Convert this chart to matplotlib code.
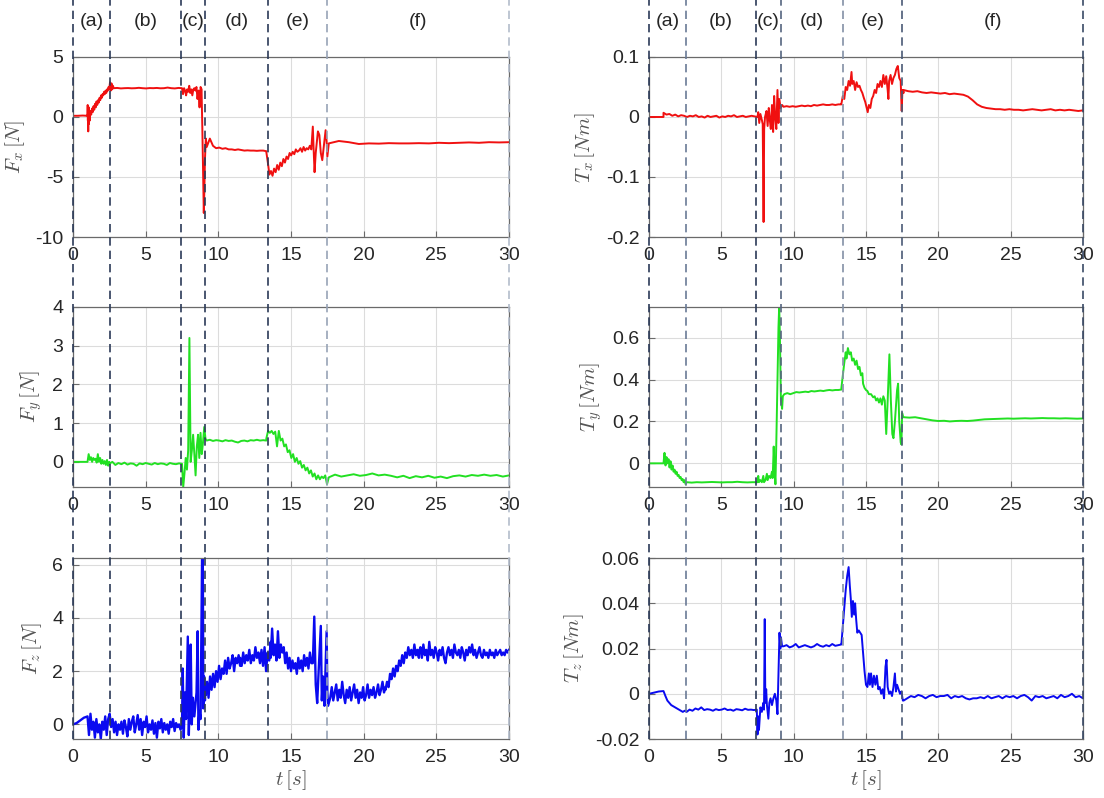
import numpy as np
import matplotlib
matplotlib.use("Agg")
import matplotlib.pyplot as plt
from matplotlib.lines import Line2D
from matplotlib.transforms import blended_transform_factory

plt.rcParams['font.family'] = ['Liberation Sans', 'DejaVu Sans']
plt.rcParams['mathtext.fontset'] = 'cm'
plt.rcParams['axes.unicode_minus'] = False

# ---------------------------------------------------------------------------
# Phase boundaries [s] and names
phase_bounds_force = [0.0, 2.55, 7.43, 9.08, 13.42, 17.48, 30.0]
phase_bounds_torque = [0.0, 2.55, 7.41, 9.10, 13.40, 17.50, 30.0]
phase_names = ['(a)', '(b)', '(c)', '(d)', '(e)', '(f)']
phase_line_colors_force = ['#2b3a58', '#2b3a58', '#2b3a58', '#2b3a58', '#2b3a58', '#97a3b6', '#b3bccb']
phase_line_colors_torque = ['#2b3a58', '#6a7a96', '#2b3a58', '#55657f', '#8390a6', '#4a5a76', '#3a4a66']

# ---------------------------------------------------------------------------
# Measured signals. Each segment is (t_start, t_end, samples) with evenly
# spaced samples, or (times, samples) for irregularly sampled stretches.

fx_segments = [
    (0.0, 1.0, [0.1, 0.1, 0.12, 0.1]),
    (1.0, 1.1, [0.2, 1.0, -0.3, 0.9, -1.2, 0.6, -0.6, 0.8, -0.2]),
    (1.1, 2.5, [0.1, -0.3, 0.5, 0.2, 0.7, 0.4, 0.9, 0.6, 1.1, 0.8, 1.3, 1.0, 1.4, 1.2,
                1.6, 1.4, 1.8, 1.6, 1.9, 1.8, 2.1, 1.9, 2.2, 2.0, 2.3, 2.2, 2.5, 2.3]),
    (2.5, 2.8, [2.4, 2.9, 2.2, 2.8, 2.3, 2.6, 2.4]),
    (2.8, 7.5, [2.4, 2.42, 2.38, 2.4, 2.41, 2.39, 2.4, 2.43, 2.4, 2.38, 2.41, 2.4, 2.42,
                2.39, 2.4, 2.45, 2.4, 2.38, 2.42, 2.4]),
    (7.5, 8.85, [2.4, 1.9, 2.4, 2.2, 1.8, 2.3, 2.1, 2.6, 2.0, 2.3, 1.8, 2.3, 2.4, 2.2,
                 2.5, 1.5, 2.2, 0.8, 2.5, 2.3]),
    ([8.85, 8.9, 8.94, 8.97, 9.0, 9.04, 9.08, 9.14, 9.2],
     [2.0, -1.0, -4.0, -6.5, -8.0, -6.0, -3.5, -1.8, -2.5]),
    (9.2, 13.3, [-2.5, -1.8, -2.4, -2.6, -2.55, -2.65, -2.6, -2.7, -2.7, -2.75, -2.7,
                 -2.75, -2.8, -2.78, -2.8, -2.8, -2.82, -2.8, -2.8, -2.85]),
    (13.3, 16.4, [-2.9, -3.8, -4.8, -4.5, -4.9, -4.3, -4.6, -4.0, -4.4, -3.8, -4.1, -3.5,
                  -3.8, -3.3, -3.5, -3.0, -3.2, -2.9, -3.1, -2.7, -2.9, -2.8, -2.6, -2.9,
                  -2.5, -2.8, -2.6, -2.7, -2.4, -2.7]),
    ([16.4, 16.5, 16.55, 16.62, 16.7, 16.85, 16.95, 17.05, 17.15, 17.25, 17.38, 17.45, 17.5, 17.6],
     [-2.6, -0.8, -2.5, -4.6, -3.0, -1.2, -1.5, -3.0, -3.6, -2.5, -1.1, -2.0, -3.3, -2.2]),
    (17.6, 30.0, [-2.2, -2.0, -2.1, -2.25, -2.2, -2.22, -2.18, -2.2, -2.2, -2.18, -2.2,
                  -2.15, -2.18, -2.15, -2.12, -2.15, -2.1, -2.12, -2.1]),
]

fy_segments = [
    (0.0, 1.0, [0.0, 0.0, 0.0]),
    (1.0, 2.5, [0.0, 0.2, 0.05, 0.12, 0.0, 0.1, 0.05, 0.08, -0.02, 0.2, 0.0, 0.1, -0.05,
                0.05, -0.05, 0.02, -0.08, 0.05, -0.1, 0.0]),
    (2.5, 7.5, [-0.05, 0.0, -0.08, -0.03, -0.06, -0.02, -0.07, -0.04, -0.05, -0.1, -0.04,
                -0.06, -0.03, -0.05, -0.07, -0.03, -0.06, -0.04, -0.05, -0.08, -0.03,
                -0.05, -0.06, -0.04, -0.05]),
    (7.5, 9.2, [-0.05, -0.65, -0.3, 0.1, -0.2, 0.3, 3.2, 0.0, 0.3, 0.7, 0.2, -0.35, 0.4,
                0.7, 0.1, 0.75, 0.2, 0.5, 0.9, 0.6, 0.55]),
    (9.2, 13.3, [0.55, 0.57, 0.54, 0.56, 0.55, 0.53, 0.56, 0.54, 0.55, 0.52, 0.5, 0.54,
                 0.55, 0.53, 0.56, 0.55, 0.57, 0.55, 0.56, 0.55]),
    (13.3, 17.6, [0.6, 0.8, 0.75, 0.8, 0.72, 0.78, 0.4, 0.8, 0.55, 0.6, 0.4, 0.45, 0.25,
                  0.3, 0.1, 0.2, 0.0, 0.1, -0.05, 0.02, -0.15, -0.08, -0.22, -0.15, -0.3,
                  -0.22, -0.38, -0.3, -0.45, -0.35, -0.45, -0.38, -0.42, -0.35, -0.58, -0.4]),
    (17.6, 30.0, [-0.4, -0.33, -0.38, -0.35, -0.32, -0.36, -0.34, -0.3, -0.35, -0.33,
                  -0.36, -0.4, -0.36, -0.42, -0.37, -0.4, -0.36, -0.41, -0.38, -0.42,
                  -0.37, -0.35, -0.38, -0.34, -0.36, -0.33, -0.36, -0.34, -0.38, -0.35]),
]

fz_segments = [
    (0.0, 1.0, [0.0, 0.05, 0.15, 0.25, 0.3]),
    (1.0, 7.5, [0.3, -0.4, 0.4, -0.2, 0.1, -0.5, 0.2, -0.3, 0.0, -0.55, 0.1, -0.2, 0.3,
                -0.4, 0.2, 0.4, -0.1, 0.2, -0.3, 0.1, -0.4, 0.0, -0.2, 0.1, -0.35, 0.15,
                -0.1, -0.45, 0.2, -0.2, 0.1, 0.3, -0.3, 0.0, 0.35, -0.2, 0.2, -0.4, 0.1,
                -0.1, 0.3, -0.3, 0.0, -0.2, 0.15, -0.35, 0.05, -0.5, 0.1, -0.15, 0.2, -0.3,
                0.05, -0.2, 0.0, -0.35, 0.1, -0.1, 0.2, -0.25, 0.05, -0.1, 0.0, -0.2, -0.05]),
    ([7.5, 7.55, 7.62, 7.7, 7.78, 7.9, 7.97, 8.05, 8.1, 8.17, 8.25, 8.35, 8.5, 8.58, 8.63,
      8.7, 8.78, 8.88, 8.93, 8.97, 9.02, 9.08, 9.12],
     [-0.1, 2.1, -0.5, 1.2, 0.2, 3.3, -0.4, 1.5, 3.0, 0.0, 1.0, 0.3, 1.2, 3.5, -0.2, 0.5,
      0.2, 6.25, 6.25, 0.6, 1.8, 0.9, 1.5]),
    (9.12, 11.5, [1.1, 1.6, 1.0, 1.8, 1.3, 1.9, 1.4, 2.0, 1.6, 2.2, 1.7, 2.1, 1.9, 2.4,
                  1.9, 2.5, 2.1, 2.3, 2.6, 2.0, 2.5, 2.3, 2.6, 2.2]),
    (11.5, 13.6, [2.5, 2.2, 2.7, 2.3, 2.6, 2.4, 2.8, 2.3, 2.6, 2.4, 2.9, 2.5, 2.7, 2.3,
                  2.8, 2.2, 2.9, 2.0, 2.7, 2.4, 3.1]),
    (13.6, 16.4, [2.5, 3.6, 2.6, 3.0, 2.4, 3.5, 2.5, 3.0, 2.7, 2.9, 2.3, 2.7, 2.1, 2.5,
                  2.0, 2.4, 2.1, 2.3, 1.9, 2.5, 2.1, 2.4, 2.0, 2.6, 2.2, 2.5, 2.1, 2.7, 2.3]),
    ([16.4, 16.5, 16.6, 16.7, 16.8, 16.9, 17.05, 17.12, 17.2, 17.3, 17.45, 17.5, 17.55, 17.7],
     [2.3, 2.3, 4.05, 1.5, 0.8, 2.0, 3.7, 0.9, 1.8, 0.7, 3.5, 1.2, 0.7, 1.0]),
    (17.7, 21.5, [1.0, 1.4, 0.9, 1.2, 1.5, 0.9, 1.3, 1.0, 1.6, 1.1, 0.8, 1.3, 1.0, 1.4,
                  0.9, 1.2, 1.5, 1.0, 1.3, 0.8, 1.2, 1.0, 1.4, 0.9, 1.1, 1.5, 1.0, 1.3,
                  1.1, 1.4, 1.0, 1.2, 1.5, 1.1, 1.3, 1.6, 1.2, 1.4]),
    (21.5, 23.8, [1.3, 1.6, 1.4, 1.9, 1.7, 2.1, 1.8, 2.2, 2.0, 2.4, 2.2, 2.6, 2.3, 2.7,
                  2.5, 2.9, 2.6, 2.8, 2.5, 3.0, 2.6, 2.8, 2.5]),
    (23.8, 30.0, [2.7, 2.9, 2.5, 3.0, 2.6, 2.8, 2.4, 3.1, 2.6, 2.8, 2.5, 2.9, 2.7, 2.4,
                  2.8, 2.6, 2.9, 2.5, 2.3, 2.7, 2.9, 2.6, 2.8, 2.5, 3.0, 2.7, 2.6, 2.8,
                  2.5, 2.9, 2.7, 2.4, 2.8, 2.6, 2.9, 2.7, 3.0, 2.6, 2.8, 2.5, 2.7, 2.9,
                  2.6, 2.5, 2.8, 2.6, 2.7, 2.5, 2.8, 2.6, 2.7, 2.5, 2.8, 2.6, 2.7, 2.8,
                  2.6, 2.7, 2.6, 2.8, 2.7, 2.8]),
]

tx_segments = [
    (0.0, 1.0, [0.0, 0.0, 0.0]),
    (1.0, 7.5, [0.007, 0.004, 0.005, 0.002, 0.004, 0.001, 0.003, 0.002, 0.0, 0.002, 0.001,
                0.003, 0.0, 0.001, -0.001, 0.002, 0.0, 0.001, 0.002, -0.001, 0.001, 0.0,
                0.002, 0.001, 0.003, 0.0, 0.001, 0.002, 0.0, 0.001, 0.002, 0.001, 0.0]),
    ([7.5, 7.55, 7.62, 7.7, 7.8, 7.86, 7.92, 7.96, 8.02, 8.12, 8.2, 8.28, 8.35, 8.42, 8.5,
      8.58, 8.65, 8.72, 8.8, 8.88, 8.95, 9.0, 9.1, 9.2, 9.3],
     [0.0, 0.008, -0.01, 0.005, -0.005, -0.012, -0.175, -0.02, 0.0, 0.01, -0.015, 0.015,
      -0.005, -0.02, 0.02, -0.025, 0.035, 0.0, -0.02, 0.045, -0.01, 0.03, 0.015, 0.02, 0.017]),
    (9.3, 13.3, [0.017, 0.018, 0.017, 0.018, 0.017, 0.018, 0.019, 0.018, 0.019, 0.018,
                 0.02, 0.019, 0.02, 0.021, 0.02, 0.02, 0.021, 0.02, 0.021, 0.021]),
    ([13.3, 13.4, 13.5, 13.6, 13.7, 13.8, 13.9, 14.0, 14.05, 14.15, 14.25, 14.35, 14.45,
      14.55, 14.65, 14.75, 14.85, 14.95, 15.05, 15.12, 15.2, 15.3, 15.4, 15.5, 15.6, 15.7,
      15.8, 15.9, 16.0, 16.1, 16.2, 16.3, 16.4, 16.5, 16.55, 16.6, 16.7, 16.8, 16.9, 17.0,
      17.1, 17.2, 17.3, 17.4, 17.47, 17.52, 17.6],
     [0.022, 0.035, 0.03, 0.05, 0.045, 0.06, 0.052, 0.075, 0.055, 0.06, 0.045, 0.058,
      0.05, 0.052, 0.045, 0.04, 0.032, 0.025, 0.015, 0.008, 0.02, 0.015, 0.03, 0.035,
      0.045, 0.04, 0.055, 0.05, 0.06, 0.05, 0.07, 0.055, 0.068, 0.045, 0.03, 0.06, 0.07,
      0.055, 0.065, 0.07, 0.08, 0.085, 0.065, 0.06, 0.01, 0.045, 0.04]),
    (17.6, 30.0, [0.045, 0.043, 0.042, 0.043, 0.041, 0.04, 0.041, 0.04, 0.039, 0.04,
                  0.038, 0.039, 0.038, 0.037, 0.034, 0.028, 0.021, 0.017, 0.015, 0.014,
                  0.013, 0.013, 0.012, 0.013, 0.012, 0.012, 0.011, 0.012, 0.013, 0.012,
                  0.011, 0.012, 0.013, 0.011, 0.012, 0.011, 0.012, 0.011, 0.01, 0.011]),
]

ty_segments = [
    (0.0, 1.0, [0.0, 0.0, 0.0]),
    (1.0, 2.6, [0.0, 0.05, -0.01, 0.03, 0.0, 0.02, -0.02, 0.01, -0.03, -0.01, -0.04, -0.03,
                -0.05, -0.04, -0.06, -0.055, -0.07, -0.065, -0.08, -0.075, -0.09, -0.08,
                -0.1, -0.09]),
    (2.6, 7.5, [-0.09, -0.092, -0.09, -0.091, -0.09, -0.089, -0.09, -0.091, -0.09, -0.09,
                -0.088, -0.09, -0.091, -0.09, -0.09]),
    ([7.5, 7.55, 7.6, 7.7, 7.8, 7.9, 7.95, 8.05, 8.15, 8.2, 8.3, 8.4, 8.5, 8.55, 8.62, 8.67,
      8.74, 8.8, 8.88, 8.95, 9.0, 9.05, 9.12, 9.2, 9.25, 9.35],
     [-0.09, -0.06, -0.09, -0.08, -0.09, -0.06, -0.09, -0.08, -0.05, -0.08, -0.06, -0.07,
      -0.04, -0.07, 0.08, -0.02, -0.1, 0.1, 0.4, 0.65, 0.75, 0.6, 0.3, 0.26, 0.32, 0.33]),
    (9.35, 13.3, [0.33, 0.335, 0.33, 0.335, 0.34, 0.338, 0.34, 0.342, 0.34, 0.345, 0.343,
                  0.345, 0.347, 0.345, 0.348, 0.35, 0.348, 0.35, 0.35, 0.352]),
    ([13.3, 13.4, 13.5, 13.6, 13.65, 13.75, 13.85, 13.95, 14.05, 14.15, 14.25, 14.35,
      14.45, 14.55, 14.65, 14.75, 14.8, 14.9, 15.0, 15.1, 15.2, 15.35, 15.5, 15.6, 15.7,
      15.8, 15.9, 16.0, 16.1, 16.2, 16.3, 16.4, 16.5, 16.62, 16.72, 16.82, 16.9, 17.0,
      17.15, 17.22, 17.3, 17.4, 17.45, 17.5, 17.58],
     [0.36, 0.42, 0.48, 0.53, 0.5, 0.55, 0.52, 0.53, 0.49, 0.5, 0.47, 0.49, 0.45, 0.46,
      0.42, 0.43, 0.38, 0.36, 0.35, 0.345, 0.33, 0.33, 0.315, 0.32, 0.3, 0.31, 0.29, 0.31,
      0.28, 0.32, 0.3, 0.14, 0.3, 0.52, 0.3, 0.14, 0.12, 0.2, 0.35, 0.38, 0.2, 0.1, 0.09,
      0.24, 0.22]),
    (17.6, 30.0, [0.22, 0.218, 0.22, 0.215, 0.21, 0.205, 0.202, 0.203, 0.2, 0.202, 0.203,
                  0.202, 0.204, 0.207, 0.21, 0.211, 0.212, 0.213, 0.214, 0.213, 0.214,
                  0.215, 0.214, 0.215, 0.216, 0.215, 0.215, 0.214, 0.215, 0.214, 0.213,
                  0.214]),
]

tz_segments = [
    (0.0, 1.0, [0.0, 0.0005, 0.001, 0.0012]),
    (1.0, 2.6, [0.0012, -0.001, -0.003, -0.004, -0.005, -0.0055, -0.006, -0.0065, -0.007,
                -0.0075, -0.008, -0.0075, -0.008]),
    (2.6, 7.45, [-0.008, -0.007, -0.0075, -0.0065, -0.007, -0.006, -0.0072, -0.0068,
                 -0.007, -0.0075, -0.0068, -0.0072, -0.007, -0.0065, -0.0072, -0.007,
                 -0.0075, -0.0068, -0.007, -0.0073, -0.0066, -0.0071, -0.007, -0.0072,
                 -0.007]),
    ([7.45, 7.5, 7.55, 7.6, 7.7, 7.8, 7.9, 7.95, 8.0, 8.04, 8.1, 8.15, 8.25, 8.32, 8.4,
      8.5, 8.6, 8.7, 8.8, 8.88, 8.95, 9.02, 9.08, 9.12, 9.2, 9.3],
     [-0.007, -0.018, -0.01, -0.016, -0.006, -0.008, -0.004, -0.007, 0.033, -0.004, 0.002,
      -0.005, -0.011, -0.004, -0.002, -0.005, -0.002, 0.0, -0.003, -0.009, 0.01, 0.027,
      0.02, 0.025, 0.021, 0.021]),
    (9.3, 13.3, [0.021, 0.0215, 0.0205, 0.021, 0.022, 0.0205, 0.021, 0.0215, 0.021,
                 0.0205, 0.021, 0.022, 0.0212, 0.0208, 0.0215, 0.021, 0.022, 0.0212,
                 0.0215, 0.0218]),
    ([13.3, 13.4, 13.5, 13.6, 13.7, 13.8, 13.88, 13.95, 14.02, 14.1, 14.18, 14.25, 14.32,
      14.4, 14.5, 14.6, 14.7, 14.8, 14.9, 15.0, 15.1, 15.2, 15.27, 15.35, 15.45, 15.55,
      15.65, 15.75, 15.85, 15.95, 16.05, 16.15, 16.25, 16.35, 16.42, 16.5, 16.6, 16.7,
      16.8, 16.9, 17.0, 17.07, 17.15, 17.25, 17.35, 17.45, 17.55],
     [0.022, 0.03, 0.038, 0.046, 0.052, 0.056, 0.048, 0.042, 0.034, 0.041, 0.035, 0.04,
      0.033, 0.027, 0.028, 0.027, 0.026, 0.018, 0.01, 0.004, 0.003, 0.009, 0.004, 0.009,
      0.003, 0.008, 0.004, 0.008, 0.002, 0.003, 0.0, 0.002, -0.002, 0.012, 0.015, 0.003,
      0.0, 0.001, -0.001, 0.003, 0.009, 0.001, 0.004, 0.002, 0.0, 0.001, -0.003]),
    (17.6, 30.0, [-0.003, -0.002, -0.001, -0.0015, -0.0005, -0.001, -0.002, -0.001,
                  -0.0005, -0.0015, -0.001, -0.001, -0.0005, -0.002, -0.001, -0.0015,
                  -0.001, -0.002, -0.0025, -0.002, -0.002, -0.0015, -0.002, -0.001,
                  -0.002, -0.0015, -0.001, -0.002, -0.001, -0.0015, -0.001, -0.002,
                  -0.001, -0.0005, -0.0015, -0.003, -0.001, -0.0015, -0.001, -0.002,
                  -0.0015, -0.001, -0.002, -0.0005, -0.0015, -0.001, 0.0, -0.0015,
                  -0.001, -0.002]),
]

# Axis settings
fx_ylim, fx_yticks = (-10, 5), [-10, -5, 0, 5]
fy_ylim, fy_yticks = (-0.65, 4), [0, 1, 2, 3, 4]
fz_ylim, fz_yticks = (-0.55, 6.25), [0, 2, 4, 6]
tx_ylim, tx_yticks = (-0.2, 0.1), [-0.2, -0.1, 0, 0.1]
ty_ylim, ty_yticks = (-0.113, 0.746), [0, 0.2, 0.4, 0.6]
tz_ylim, tz_yticks = (-0.02, 0.06), [-0.02, 0, 0.02, 0.04, 0.06]
time_ticks = [0, 5, 10, 15, 20, 25, 30]

RED, GREEN, BLUE = '#f01010', '#22e022', '#0a0af0'


def assemble(segments):
    t_all, v_all = [], []
    for seg in segments:
        if len(seg) == 3:
            t0, t1, vals = seg
            t = np.linspace(t0, t1, len(vals))
        else:
            t, vals = seg
        t_all.extend(list(t))
        v_all.extend(list(vals))
    return np.asarray(t_all), np.asarray(v_all)


fig = plt.figure(figsize=(11.04, 7.98), dpi=100)

col_left = [0.0661, 0.5879]
col_width = [0.395, 0.393]
row_bottom = [0.703, 0.3897, 0.0739]
row_height = [0.2256, 0.2256, 0.2268]

panels = [
    (0, 0, fx_segments, RED, 1.4, fx_ylim, fx_yticks, r'$F_x\,[N]$'),
    (0, 1, fy_segments, GREEN, 1.4, fy_ylim, fy_yticks, r'$F_y\,[N]$'),
    (0, 2, fz_segments, BLUE, 1.7, fz_ylim, fz_yticks, r'$F_z\,[N]$'),
    (1, 0, tx_segments, RED, 1.4, tx_ylim, tx_yticks, r'$T_x\,[Nm]$'),
    (1, 1, ty_segments, GREEN, 1.4, ty_ylim, ty_yticks, r'$T_y\,[Nm]$'),
    (1, 2, tz_segments, BLUE, 1.4, tz_ylim, tz_yticks, r'$T_z\,[Nm]$'),
]

axes = {}
for col, row, segs, color, lw, ylim, yticks, ylabel in panels:
    ax = fig.add_axes([col_left[col], row_bottom[row], col_width[col], row_height[row]])
    t, v = assemble(segs)
    ax.plot(t, v, color=color, lw=lw, solid_joinstyle='round')
    ax.set_xlim(0, 30)
    ax.set_ylim(*ylim)
    ax.set_xticks(time_ticks)
    ax.set_xticklabels(['%g' % x for x in time_ticks])
    ax.set_yticks(yticks)
    ax.set_yticklabels(['%g' % y for y in yticks])
    ax.grid(True, color='#dcdcdc', lw=0.8)
    ax.set_axisbelow(True)
    for sp in ax.spines.values():
        sp.set_color('#6a6a6a')
        sp.set_linewidth(0.9)
    ax.tick_params(direction='in', length=4, width=0.8, color='#6a6a6a',
                   labelsize=14, labelcolor='#262626', pad=7)
    ax.set_ylabel(ylabel, fontsize=15, color='#555555', labelpad=6)
    if row == 2:
        ax.set_xlabel(r'$t\,[s]$', fontsize=15, color='#555555', labelpad=2)
    axes[(col, row)] = ax

# Phase separators spanning each column, with phase names above
for col, bounds, colors in [(0, phase_bounds_force, phase_line_colors_force),
                            (1, phase_bounds_torque, phase_line_colors_torque)]:
    ax_top = axes[(col, 0)]
    trans = blended_transform_factory(ax_top.transData, fig.transFigure)
    y_low = row_bottom[2]
    for tb, c in zip(bounds, colors):
        fig.add_artist(Line2D([tb, tb], [y_low, 1.0], transform=trans, color=c,
                              lw=1.2, ls=(0, (5, 3)), zorder=5))
    for i, name in enumerate(phase_names):
        mid = 0.5 * (bounds[i] + bounds[i + 1])
        fig.text(mid, 1 - 22 / 798, name, transform=trans, ha='center', va='center',
                 fontsize=14, color='#262626')

fig.savefig('out.png', dpi=100)
